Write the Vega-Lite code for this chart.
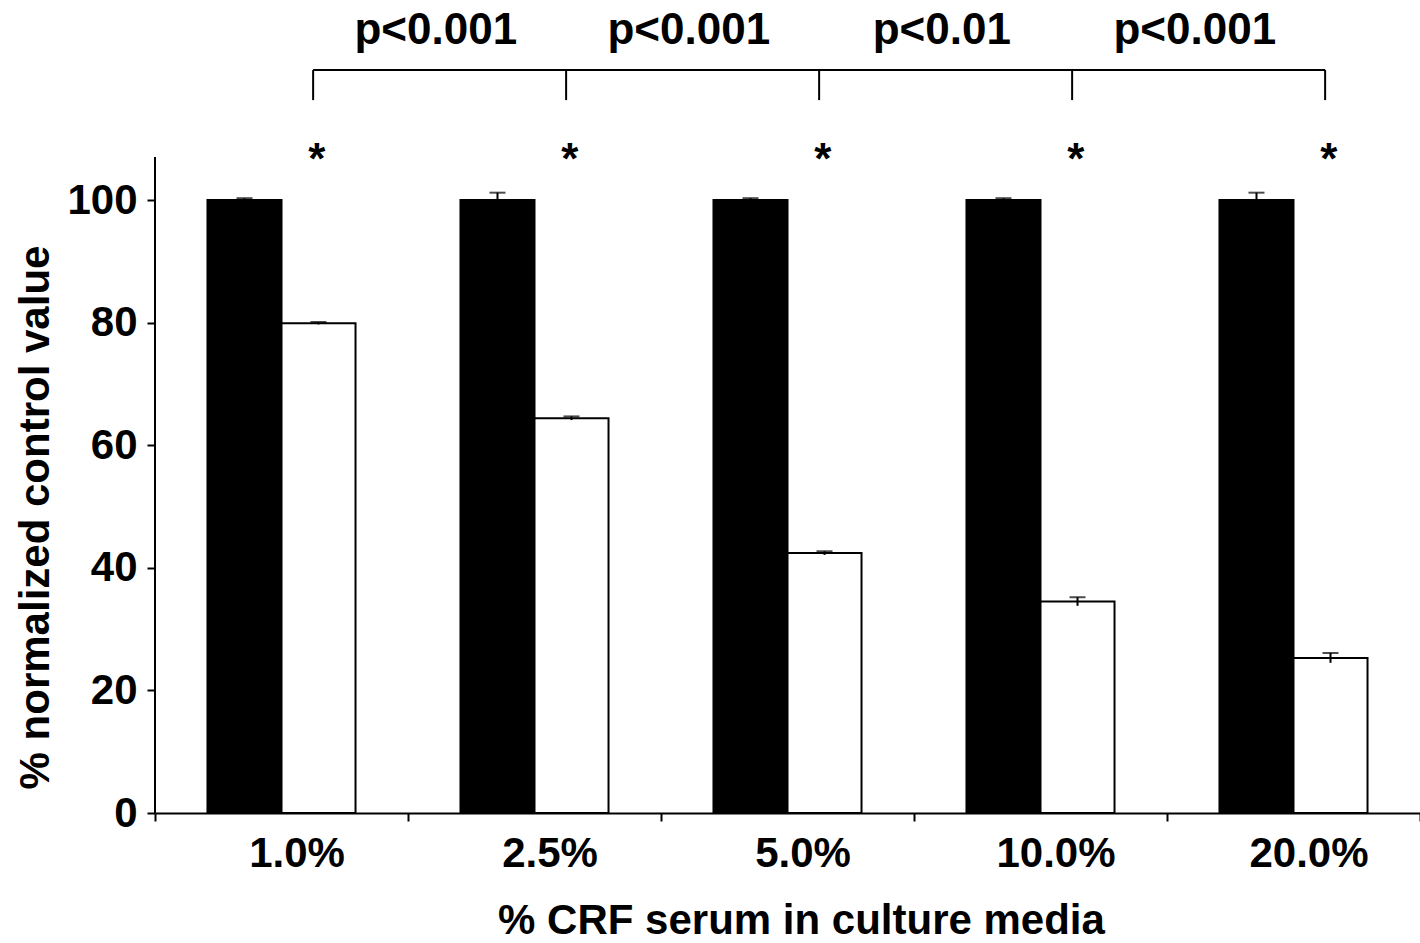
{
  "$schema": "https://vega.github.io/schema/vega-lite/v6.json",
  "width": 1265,
  "height": 803,
  "autosize": "none",
  "padding": {"left": 155, "top": 10, "right": 0, "bottom": 130},
  "background": "white",
  "config": {
    "view": {"stroke": null},
    "font": "Liberation Sans",
    "axis": {
      "domainColor": "black",
      "domainWidth": 2,
      "tickColor": "black",
      "tickWidth": 2,
      "tickSize": 8,
      "labelColor": "black",
      "labelFont": "Liberation Sans",
      "labelFontSize": 42,
      "labelFontWeight": "bold",
      "titleColor": "black",
      "titleFont": "Liberation Sans",
      "titleFontSize": 42,
      "titleFontWeight": "bold",
      "grid": false
    }
  },
  "datasets": {
    "bars": [
      {"grp": "1.0%", "series": "control", "value": 100, "lo": 99.7, "hi": 100.3},
      {"grp": "1.0%", "series": "CRF", "value": 79.9, "lo": 79.7, "hi": 80.1},
      {"grp": "2.5%", "series": "control", "value": 100, "lo": 98.8, "hi": 101.2},
      {"grp": "2.5%", "series": "CRF", "value": 64.4, "lo": 64.1, "hi": 64.7},
      {"grp": "5.0%", "series": "control", "value": 100, "lo": 99.7, "hi": 100.3},
      {"grp": "5.0%", "series": "CRF", "value": 42.4, "lo": 42.1, "hi": 42.7},
      {"grp": "10.0%", "series": "control", "value": 100, "lo": 99.7, "hi": 100.3},
      {"grp": "10.0%", "series": "CRF", "value": 34.5, "lo": 33.8, "hi": 35.2},
      {"grp": "20.0%", "series": "control", "value": 100, "lo": 98.8, "hi": 101.2},
      {"grp": "20.0%", "series": "CRF", "value": 25.3, "lo": 24.5, "hi": 26.1}
    ],
    "yaxis": [{"grp": "1.0%", "y0": 0, "y1": 107}],
    "stars": [
      {"grp": "1.0%", "mark": "*", "y": 104.2},
      {"grp": "2.5%", "mark": "*", "y": 104.2},
      {"grp": "5.0%", "mark": "*", "y": 104.2},
      {"grp": "10.0%", "mark": "*", "y": 104.2},
      {"grp": "20.0%", "mark": "*", "y": 104.2}
    ],
    "bracket": [
      {"grp": "1.0%", "ylo": 116.3, "yhi": 121.2},
      {"grp": "2.5%", "ylo": 116.3, "yhi": 121.2},
      {"grp": "5.0%", "ylo": 116.3, "yhi": 121.2},
      {"grp": "10.0%", "ylo": 116.3, "yhi": 121.2},
      {"grp": "20.0%", "ylo": 116.3, "yhi": 121.2}
    ],
    "pvals": [
      {"grp": "2.5%", "label": "p<0.001", "y": 125.4},
      {"grp": "5.0%", "label": "p<0.001", "y": 125.4},
      {"grp": "10.0%", "label": "p<0.01", "y": 125.4},
      {"grp": "20.0%", "label": "p<0.001", "y": 125.4}
    ]
  },
  "layer": [
    {
      "data": {"name": "bars"},
      "mark": {"type": "bar", "stroke": "black", "strokeWidth": 2},
      "encoding": {
        "x": {
          "field": "grp", "type": "nominal",
          "scale": {"domain": ["1.0%", "2.5%", "5.0%", "10.0%", "20.0%"], "paddingInner": 0, "paddingOuter": 0},
          "axis": {
            "title": "% CRF serum in culture media",
            "labelAngle": 0,
            "tickBand": "extent",
            "labelOffset": 15,
            "labelPadding": 12,
            "titlePadding": 26,
            "titleX": 646
          }
        },
        "xOffset": {
          "field": "series", "type": "nominal",
          "scale": {"domain": ["control", "CRF"], "paddingInner": 0, "paddingOuter": 0.709}
        },
        "y": {
          "field": "value", "type": "quantitative",
          "scale": {"domain": [0, 131], "nice": false, "zero": true},
          "axis": {
            "values": [0, 20, 40, 60, 80, 100],
            "domain": false,
            "labelPadding": 10,
            "title": "% normalized control value",
            "titleX": -120,
            "titleY": 507,
            "titleAngle": -90,
            "titleAlign": "center",
            "titleBaseline": "middle"
          }
        },
        "fill": {
          "field": "series", "type": "nominal",
          "scale": {"domain": ["control", "CRF"], "range": ["black", "white"]},
          "legend": null
        }
      }
    },
    {
      "data": {"name": "bars"},
      "mark": {"type": "rule", "color": "black", "strokeWidth": 2},
      "encoding": {
        "x": {"field": "grp", "type": "nominal"},
        "xOffset": {"field": "series", "type": "nominal"},
        "y": {"field": "lo", "type": "quantitative"},
        "y2": {"field": "hi"}
      }
    },
    {
      "data": {"name": "bars"},
      "mark": {"type": "tick", "orient": "horizontal", "size": 16, "thickness": 2, "color": "black"},
      "encoding": {
        "x": {"field": "grp", "type": "nominal"},
        "xOffset": {"field": "series", "type": "nominal"},
        "y": {"field": "hi", "type": "quantitative"}
      }
    },
    {
      "data": {"name": "yaxis"},
      "mark": {"type": "rule", "color": "black", "strokeWidth": 2},
      "encoding": {
        "x": {"field": "grp", "type": "nominal", "bandPosition": 0},
        "y": {"field": "y0", "type": "quantitative"},
        "y2": {"field": "y1"}
      }
    },
    {
      "data": {"name": "stars"},
      "mark": {"type": "text", "fontSize": 44, "fontWeight": "bold", "font": "Liberation Sans", "color": "black", "baseline": "alphabetic", "align": "center"},
      "encoding": {
        "x": {"field": "grp", "type": "nominal", "bandPosition": 0.64},
        "y": {"field": "y", "type": "quantitative"},
        "text": {"field": "mark"}
      }
    },
    {
      "data": {"name": "bracket"},
      "mark": {"type": "rule", "color": "black", "strokeWidth": 2},
      "encoding": {
        "x": {"field": "grp", "type": "nominal", "bandPosition": 0.625},
        "y": {"field": "ylo", "type": "quantitative"},
        "y2": {"field": "yhi"}
      }
    },
    {
      "data": {"name": "bracket"},
      "mark": {"type": "line", "color": "black", "strokeWidth": 2},
      "encoding": {
        "x": {"field": "grp", "type": "nominal", "bandPosition": 0.625},
        "y": {"field": "yhi", "type": "quantitative"}
      }
    },
    {
      "data": {"name": "pvals"},
      "mark": {"type": "text", "fontSize": 44, "fontWeight": "bold", "font": "Liberation Sans", "color": "black", "baseline": "alphabetic", "align": "center"},
      "encoding": {
        "x": {"field": "grp", "type": "nominal", "bandPosition": 0.11},
        "y": {"field": "y", "type": "quantitative"},
        "text": {"field": "label"}
      }
    }
  ]
}
